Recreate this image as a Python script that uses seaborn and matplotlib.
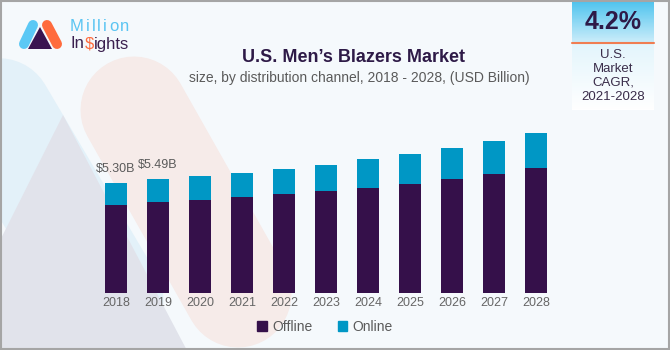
import numpy as np
import pandas as pd
import matplotlib
matplotlib.use('Agg')
import matplotlib.pyplot as plt
import seaborn as sns
from matplotlib.patches import Polygon, Rectangle, Patch

# data (USD Billion)
years = [2018, 2019, 2020, 2021, 2022, 2023, 2024, 2025, 2026, 2027, 2028]
offline = [4.24, 4.40, 4.49, 4.62, 4.78, 4.93, 5.07, 5.25, 5.51, 5.75, 6.05]
online = [1.06, 1.09, 1.15, 1.19, 1.22, 1.24, 1.39, 1.45, 1.51, 1.59, 1.66]
value_labels = ['$5.30B', '$5.49B']
series_names = ['Offline', 'Online']

title = 'U.S. Men\u2019s Blazers Market'
subtitle = 'size, by distribution channel, 2018 - 2028, (USD Billion)'
cagr_value = '4.2%'
cagr_text = 'U.S.\nMarket\nCAGR,\n2021-2028'

# colours
C_OFF = '#35104A'
C_ON = '#0097C5'
BG = '#F5F9FC'
DARK = '#2E1A47'
GREY = '#5A5A5A'

sns.set_theme(style='white')
plt.rcParams['font.family'] = ['Liberation Sans', 'DejaVu Sans']

df = pd.DataFrame({'year': [str(y) for y in years], 'offline': offline, 'online': online})
df['total'] = df['offline'] + df['online']

fig = plt.figure(figsize=(6.7, 3.5), dpi=100)
fig.patch.set_facecolor(BG)

# background layer in pixel coordinates (origin top-left)
bg = fig.add_axes([0, 0, 1, 1], zorder=0)
bg.set_xlim(0, 670)
bg.set_ylim(350, 0)
bg.axis('off')
bg.patch.set_alpha(0)

# decorative shapes
bg.plot([-2, 110], [110, 300], color='#E3F1F9', lw=107 * 0.72, solid_capstyle='round', zorder=1)
bg.add_patch(Polygon([[63, 115], [-60, 360], [192, 360]], closed=True, color='#E1E3EB', lw=0, zorder=2))
bg.plot([134, 238], [110, 294], color='#F6EBE9', lw=107 * 0.72, solid_capstyle='round', zorder=1)

# logo
bg.plot([33, 24], [25, 44], color='#5BC8F5', lw=10 * 0.72, solid_capstyle='round', zorder=3)
bg.plot([47, 57], [25, 44], color='#FF6B3D', lw=10 * 0.72, solid_capstyle='round', zorder=3)
bg.add_patch(Polygon([[40, 27], [28, 49], [52, 49]], closed=True, color='#3A1450', lw=0, zorder=4))
fig.canvas.draw()
rend = fig.canvas.get_renderer()
x = 70
for ch in 'Million':
    t = bg.text(x, 26.5, ch, color='#5BC5F2', fontsize=12, va='center', ha='left', zorder=5)
    x = t.get_window_extent(rend).x1 + 2
x = 70
for part, col in [('In', '#3A1F4E'), ('$', '#FF6B3D'), ('ights', '#3A1F4E')]:
    t = bg.text(x, 44, part, color=col, fontsize=12, va='center', ha='left', zorder=5)
    x = t.get_window_extent(rend).x1 + 0.5

# CAGR box
grad = np.linspace(0, 1, 50).reshape(-1, 1)
bg.imshow(grad, extent=[572, 654, 42, 0], aspect='auto', zorder=3,
          cmap=matplotlib.colors.LinearSegmentedColormap.from_list('t', ['#4CC3EE', '#C9ECFA']))
bg.imshow(grad, extent=[572, 654, 110, 43], aspect='auto', zorder=3,
          cmap=matplotlib.colors.LinearSegmentedColormap.from_list('b', ['#E3F5FC', '#FFFFFF']))
bg.plot([572, 654], [42.5, 42.5], color='#F07D52', lw=1.5, zorder=4)
bg.text(613, 22, cagr_value, color=DARK, fontsize=18, weight='bold', ha='center', va='center', zorder=5)
bg.text(613, 76, cagr_text, color='#3A2D4A', fontsize=9.5, ha='center', va='center',
        linespacing=1.2, zorder=5)
bg.set_xlim(0, 670)
bg.set_ylim(350, 0)

# frame
bg.add_patch(Rectangle((0.5, 0.5), 668, 348.5, fill=False, edgecolor='#A5A5A5', lw=1.5, zorder=6))

# titles
fig.text(353 / 670, 1 - 58 / 350, title, ha='center', va='center', weight='bold', fontsize=13, color=DARK)
fig.text(359 / 670, 1 - 78 / 350, subtitle, ha='center', va='center', fontsize=10, color=GREY)

# main stacked bar chart
ax = fig.add_axes([95 / 670, 57 / 350, 462 / 670, 176 / 350], zorder=2)
ax.patch.set_alpha(0)
sns.barplot(data=df, x='year', y='total', color=C_ON, width=0.53, saturation=1, ax=ax)
sns.barplot(data=df, x='year', y='offline', color=C_OFF, width=0.53, saturation=1, ax=ax)
for p in ax.patches:
    p.set_edgecolor('none')

for i, lab in enumerate(value_labels):
    ax.annotate(lab, (i, df['total'][i]), xytext=(0, 14), textcoords='offset pixels',
                ha='center', va='center', fontsize=9, color=GREY)

ax.set_xlim(-0.5, len(years) - 0.5)
ax.set_ylim(0, 8.5)
ax.set_xlabel('')
ax.set_ylabel('')
ax.set_yticks([])
ax.tick_params(axis='x', length=0, pad=3, labelsize=9, labelcolor='#666666')
sns.despine(ax=ax, left=True, bottom=True)

handles = [Patch(color=C_OFF, label=series_names[0]), Patch(color=C_ON, label=series_names[1])]
fig.legend(handles=handles, loc='center', bbox_to_anchor=(325 / 670, 1 - 327 / 350), ncol=2,
           frameon=False, handlelength=0.7, handleheight=0.7, handletextpad=0.4,
           columnspacing=1.8, fontsize=10, labelcolor=GREY)

fig.savefig('out.png', dpi=100, facecolor=BG)
